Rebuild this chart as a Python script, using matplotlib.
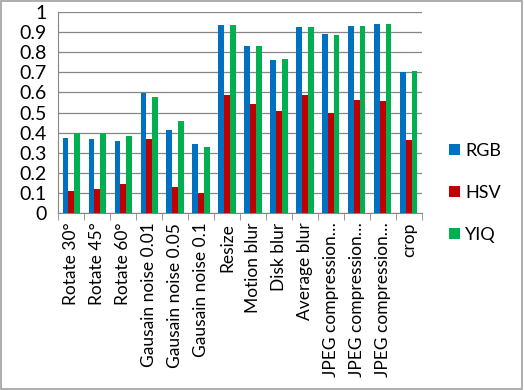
import numpy as np
import matplotlib
matplotlib.use('Agg')
import matplotlib.pyplot as plt
from matplotlib.patches import Rectangle

categories = ["Rotate 30°", "Rotate 45°", "Rotate 60°", "Gausain noise 0.01",
              "Gausain noise 0.05", "Gausain noise 0.1", "Resize", "Motion blur",
              "Disk blur", "Average blur", "JPEG compression…", "JPEG compression…",
              "JPEG compression…", "crop"]
rgb = [0.375, 0.37, 0.36, 0.595, 0.415, 0.345, 0.935, 0.83, 0.76, 0.925, 0.89, 0.93, 0.94, 0.70]
hsv = [0.11, 0.12, 0.145, 0.37, 0.13, 0.10, 0.585, 0.54, 0.51, 0.585, 0.50, 0.56, 0.555, 0.365]
yiq = [0.40, 0.40, 0.385, 0.575, 0.46, 0.33, 0.935, 0.83, 0.765, 0.925, 0.885, 0.93, 0.94, 0.705]

plt.rcParams['font.family'] = ['Lato', 'DejaVu Sans']

fig = plt.figure(figsize=(5.24, 3.90), dpi=100)
ax = fig.add_axes([0.111, 0.454, 0.694, 0.515])

x = np.arange(len(categories))
w = 0.22
ax.bar(x - w, rgb, w, color='#0070C0', label='RGB', zorder=3)
ax.bar(x, hsv, w, color='#C00000', label='HSV', zorder=3)
ax.bar(x + w, yiq, w, color='#00B050', label='YIQ', zorder=3)

ax.set_xlim(-0.5, len(categories) - 0.5)
ax.set_ylim(0, 1)
ax.set_yticks(np.arange(0, 1.01, 0.1))
ax.set_yticklabels(['0', '0.1', '0.2', '0.3', '0.4', '0.5', '0.6', '0.7', '0.8', '0.9', '1'])
ax.yaxis.grid(True, color='#868686', linewidth=0.9, zorder=0)
ax.tick_params(axis='y', length=0, labelsize=14, pad=8)

ax.set_xticks(x)
ax.set_xticklabels(categories, rotation=90, fontsize=12.5)
ax.set_xticks(np.arange(-0.5, len(categories)), minor=True)
ax.tick_params(axis='x', which='major', length=0, pad=7)
ax.tick_params(axis='x', which='minor', length=5, color='#868686')

for s in ['top', 'right']:
    ax.spines[s].set_visible(False)
ax.spines['left'].set_color('#868686')
ax.spines['bottom'].set_color('#868686')

ax.legend(loc='center left', bbox_to_anchor=(1.03, 0.1), frameon=False,
          fontsize=13, handlelength=0.6, handleheight=0.6, labelspacing=1.45,
          handletextpad=0.3)

fig.patches.append(Rectangle((0.002, 0.003), 0.995, 0.994, transform=fig.transFigure,
                             fill=False, edgecolor='#A0A0A0', linewidth=1.2))

fig.savefig('out.png', dpi=100)
